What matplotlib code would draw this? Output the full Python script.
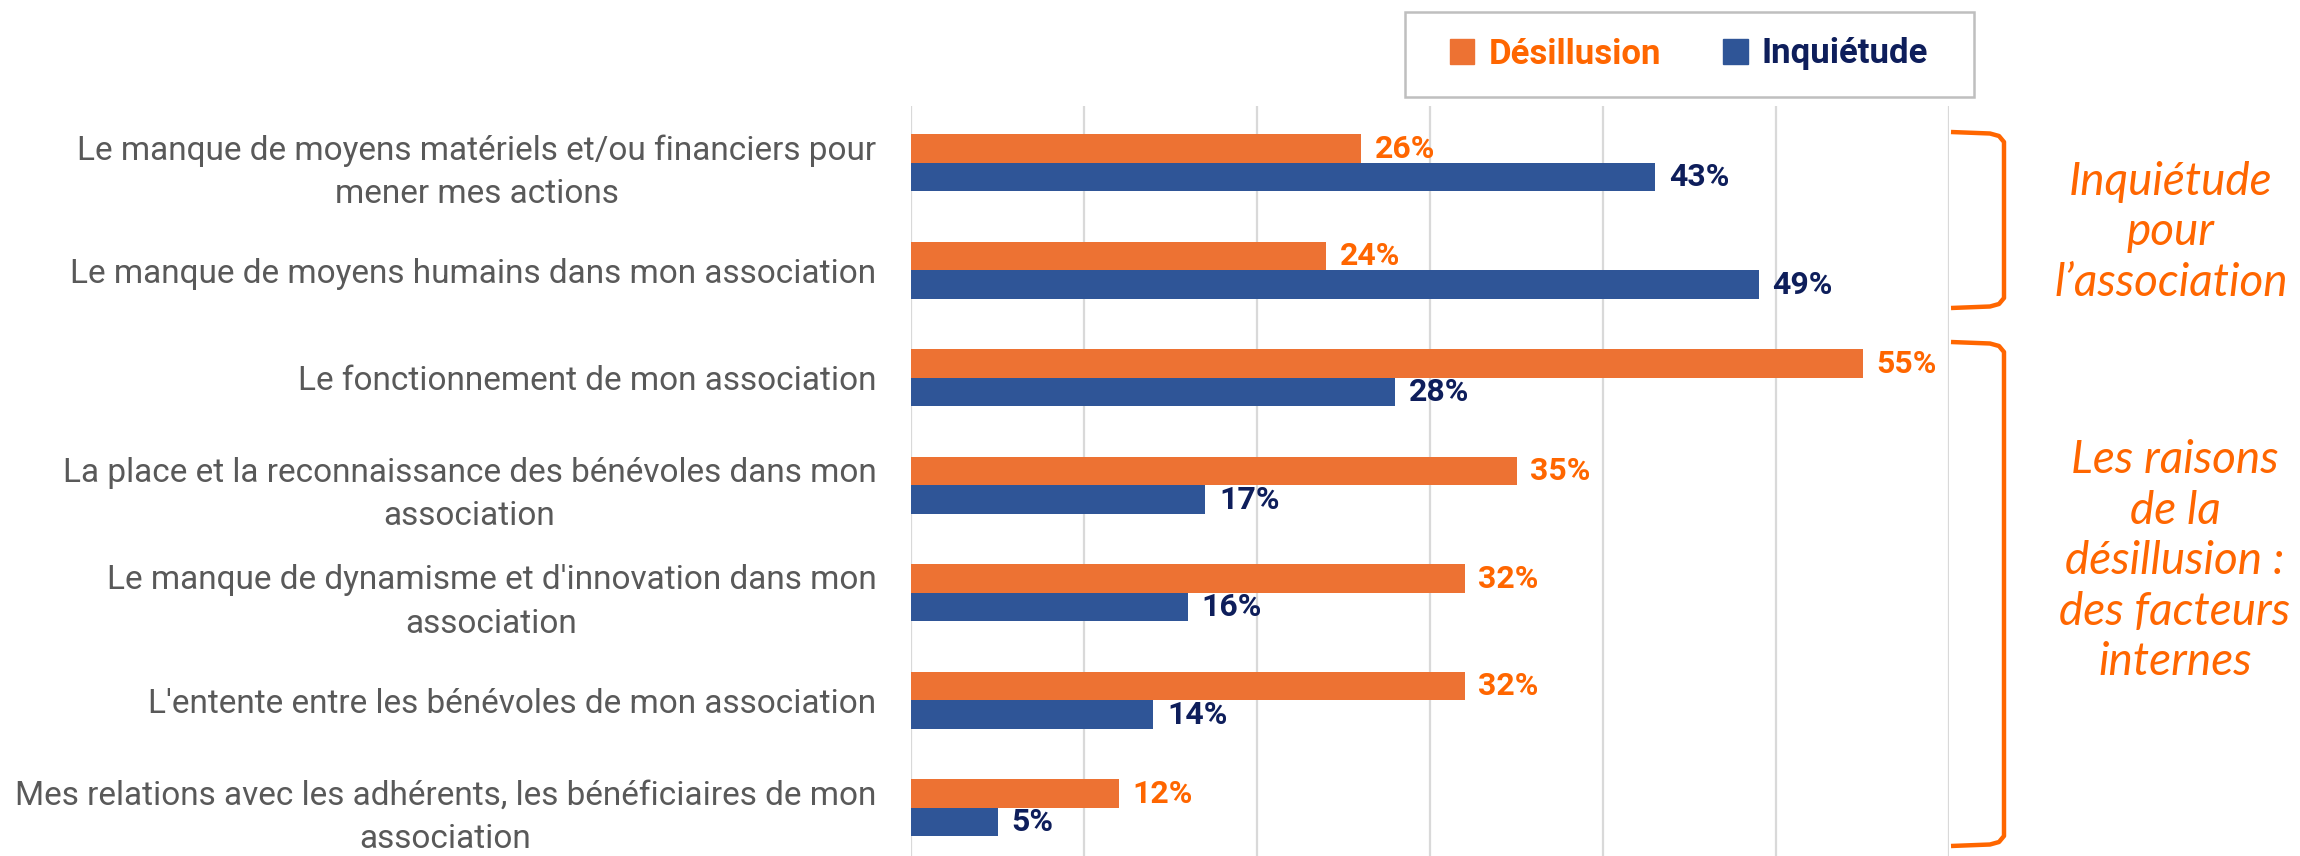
import matplotlib
matplotlib.use("Agg")
import matplotlib.pyplot as plt
from matplotlib.patches import Patch, Rectangle
import numpy as np

categories = [
    "Le manque de moyens matériels et/ou financiers pour\nmener mes actions",
    "Le manque de moyens humains dans mon association",
    "Le fonctionnement de mon association",
    "La place et la reconnaissance des bénévoles dans mon\nassociation",
    "Le manque de dynamisme et d'innovation dans mon\nassociation",
    "L'entente entre les bénévoles de mon association",
    "Mes relations avec les adhérents, les bénéficiaires de mon\nassociation",
]
desillusion = [26, 24, 55, 35, 32, 32, 12]
inquietude = [43, 49, 28, 17, 16, 14, 5]
series_names = ["Désillusion", "Inquiétude"]

ORANGE = "#ED7233"
BLUE = "#2F5597"
ORANGE_TXT = "#FF6600"
BLUE_TXT = "#0E1E5B"
GREY_TXT = "#595959"
narrow = ["Liberation Sans Narrow", "Roboto", "DejaVu Sans"]
italic = ["Lato", "Open Sans", "DejaVu Sans"]

W, H = 2300, 856
fig = plt.figure(figsize=(W / 100, H / 100), dpi=100)

ax = fig.add_axes([911 / W, 0, (1949 - 911) / W, 1 - 106 / H])
y = np.arange(len(categories))
bh = 0.265
ax.barh(y - bh / 2, desillusion, height=bh, color=ORANGE, label=series_names[0])
ax.barh(y + bh / 2, inquietude, height=bh, color=BLUE, label=series_names[1])

for i in range(len(categories)):
    ax.annotate(f"{desillusion[i]}%", (desillusion[i], y[i] - bh / 2), xytext=(10, 0),
                textcoords="offset points", va="center", ha="left",
                fontsize=23, fontweight="bold", color=ORANGE_TXT, family=narrow)
    ax.annotate(f"{inquietude[i]}%", (inquietude[i], y[i] + bh / 2), xytext=(10, 0),
                textcoords="offset points", va="center", ha="left",
                fontsize=23, fontweight="bold", color=BLUE_TXT, family=narrow)

ax.set_xlim(0, 60)
ax.set_ylim(6.447, -0.53)
ax.set_xticks(np.arange(0, 61, 10))
ax.xaxis.grid(True, color="#D9D9D9", linewidth=1.6)
ax.set_axisbelow(True)
ax.tick_params(axis="x", length=0, labelbottom=False)
ax.tick_params(axis="y", length=0, pad=25)
ax.set_yticks(y)
ax.set_yticklabels(categories, fontsize=24, color=GREY_TXT, family=narrow)
for t in ax.get_yticklabels():
    t.set_multialignment("center")
    t.set_linespacing(1.45)
for s in ax.spines.values():
    s.set_visible(False)

# overlay in pixel coordinates for legend box, brackets and side notes
ov = fig.add_axes([0, 0, 1, 1], facecolor="none")
ov.set_xlim(0, W)
ov.set_ylim(H, 0)
ov.axis("off")

ov.add_patch(Rectangle((1405, 12), 569, 85, fill=False, edgecolor="#BFBFBF", linewidth=1.8))
handles = [Patch(color=ORANGE), Patch(color=BLUE)]
leg = ov.legend(handles, series_names, loc="center", bbox_to_anchor=((1405 + 284) / W, 1 - 54 / H),
                bbox_transform=fig.transFigure, ncol=2, frameon=False, handlelength=0.7,
                handleheight=0.7, handletextpad=0.4, columnspacing=1.8,
                prop={"family": narrow, "weight": "bold", "size": 25})
for txt, c in zip(leg.get_texts(), [ORANGE_TXT, BLUE_TXT]):
    txt.set_color(c)


def bracket(top, bottom, x0=1951, x1=2004):
    xs = [x0, 1990, 1999, x1, x1, 1999, 1990, x0]
    ys = [top, top + 1.5, top + 4, top + 10, bottom - 10, bottom - 4, bottom - 1.5, bottom]
    ov.plot(xs, ys, color=ORANGE_TXT, linewidth=3.2, solid_capstyle="butt", solid_joinstyle="round")


bracket(132, 308)
bracket(342, 846)

ov.text(2171, 232, "Inquiétude\npour\nl’association", ha="center", va="center",
        fontsize=33, style="italic", color=ORANGE_TXT, family=italic, linespacing=1.25)
ov.text(2175, 561, "Les raisons\nde la\ndésillusion :\ndes facteurs\ninternes", ha="center", va="center",
        fontsize=33, style="italic", color=ORANGE_TXT, family=italic, linespacing=1.25)

fig.savefig("out.png", dpi=100)
